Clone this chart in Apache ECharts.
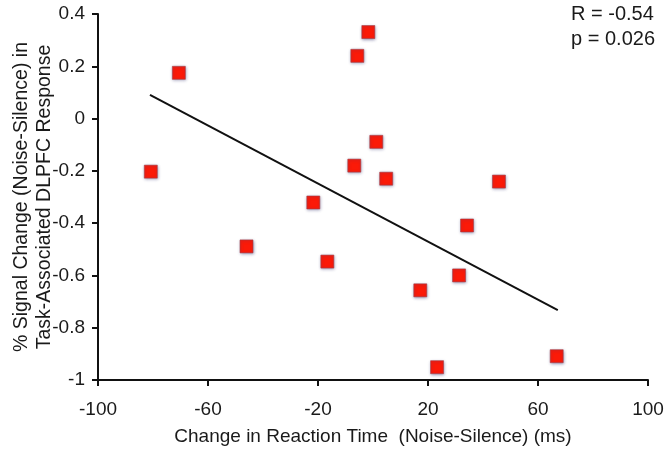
<!DOCTYPE html>
<html>
<head>
<meta charset="utf-8">
<script src="https://cdn.jsdelivr.net/npm/echarts@6/dist/echarts.min.js"></script>
<style>
html,body{margin:0;padding:0;background:#fff;}
#c{width:664px;height:453px;}
</style>
</head>
<body>
<div id="c"></div>
<script>
// Data
var rtChange = [-80.8, -70.6, -46.0, -21.7, -16.6, -6.8, -5.7, -1.7, 1.2, 4.8, 17.2, 23.3, 31.3, 34.2, 45.8, 66.8];
var signalChange = [-0.203, 0.175, -0.489, -0.321, -0.547, -0.18, 0.24, 0.331, -0.089, -0.23, -0.657, -0.951, -0.6, -0.409, -0.241, -0.909];
var fitX = [-81.1, 67.2];
var fitY = [0.091, -0.733];
var xTicks = [-100, -60, -20, 20, 60, 100];
var yTicks = [-1, -0.8, -0.6, -0.4, -0.2, 0, 0.2, 0.4];
var statsText = ['R = -0.54', 'p = 0.026'];

var points = rtChange.map(function(x, i){ return [x, signalChange[i]]; });
var fitLine = fitX.map(function(x, i){ return [x, fitY[i]]; });

var font = 'Liberation Sans, Arial, sans-serif';
var txt = '#1a1a1a';
var chart = echarts.init(document.getElementById('c'), null, {renderer:'canvas'});
chart.setOption({
  animation: false,
  backgroundColor: '#fff',
  grid: {left: 98, right: 16, top: 14, bottom: 73, containLabel: false, outerBoundsMode: 'none'},
  xAxis: {
    type: 'value', min: xTicks[0], max: xTicks[xTicks.length-1], interval: 40,
    name: 'Change in Reaction Time  (Noise-Silence) (ms)',
    nameLocation: 'middle', nameGap: 47, nameMoveOverlap: false,
    nameTextStyle: {fontFamily: font, fontSize: 19, color: txt},
    axisLine: {onZero: false, lineStyle: {color: '#111', width: 2}},
    axisTick: {show: true, length: 6, lineStyle: {color: '#111', width: 2}},
    axisLabel: {fontFamily: font, fontSize: 19, color: txt, margin: 20},
    splitLine: {show: false}
  },
  yAxis: {
    type: 'value', min: yTicks[0], max: yTicks[yTicks.length-1], interval: 0.2,
    name: '% Signal Change (Noise-Silence) in\nTask-Associated DLPFC Response',
    nameLocation: 'middle', nameGap: 42, nameRotate: 90, nameMoveOverlap: false,
    nameTextStyle: {fontFamily: font, fontSize: 19.5, color: txt, lineHeight: 23},
    axisLine: {onZero: false, lineStyle: {color: '#111', width: 2}},
    axisTick: {show: true, length: 6, lineStyle: {color: '#111', width: 2}},
    axisLabel: {fontFamily: font, fontSize: 19, color: txt, margin: 13,
      formatter: function(v){ return String(Math.round(v*10)/10); }},
    splitLine: {show: false}
  },
  graphic: [{
    type: 'text', right: 9, top: 2,
    style: {text: statsText.join('\n'), font: '20px ' + font, fill: txt, lineHeight: 25, textAlign: 'left'}
  }],
  series: [{
    type: 'line', data: fitLine, symbol: 'none', silent: true,
    lineStyle: {color: '#111', width: 2}, z: 2
  }, {
    type: 'scatter', data: points, symbol: 'rect', symbolSize: 13,
    itemStyle: {color: '#fb1a08', borderColor: '#a0404a', borderWidth: 0.6,
      shadowColor: 'rgba(60,60,120,0.55)', shadowBlur: 3, shadowOffsetX: 0.5, shadowOffsetY: 1, opacity: 1},
    z: 3
  }]
});
</script>
</body>
</html>
